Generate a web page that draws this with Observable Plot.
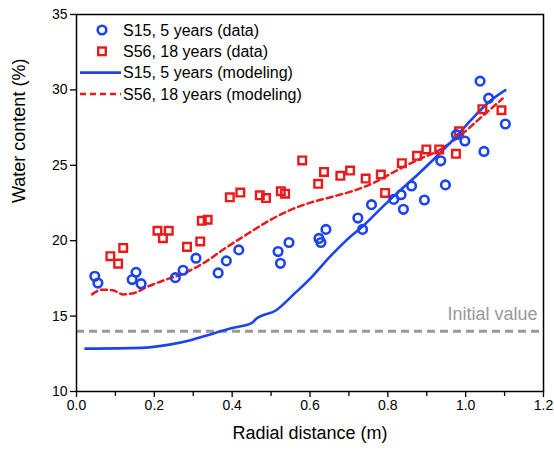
<!DOCTYPE html>
<html>
<head>
<meta charset="utf-8">
<script src="https://cdn.jsdelivr.net/npm/d3@7"></script>
<script src="https://cdn.jsdelivr.net/npm/@observablehq/plot@0.6"></script>
<style>
  html, body { margin: 0; padding: 0; background: #fff; }
  #chart { width: 554px; height: 451px; }
</style>
</head>
<body>
<div id="chart"></div>
<script>
// S15, 5 years (data)
const s15DataX = [0.047,0.055,0.143,0.153,0.166,0.254,0.274,0.307,0.364,0.385,0.417,0.518,0.524,0.546,0.623,0.628,0.641,0.723,0.735,0.758,0.815,0.834,0.840,0.861,0.894,0.936,0.948,0.976,0.998,1.037,1.047,1.059,1.102];
const s15DataY = [17.64,17.19,17.42,17.90,17.15,17.55,18.04,18.84,17.86,18.66,19.39,19.28,18.50,19.88,20.15,19.88,20.75,21.50,20.75,22.39,22.74,23.05,22.08,23.63,22.70,25.30,23.70,27.03,26.61,30.58,25.92,29.45,27.74];
// S56, 18 years (data)
const s56DataX = [0.087,0.107,0.120,0.208,0.222,0.237,0.284,0.318,0.322,0.337,0.394,0.421,0.471,0.487,0.525,0.536,0.580,0.621,0.636,0.678,0.703,0.743,0.782,0.793,0.836,0.875,0.899,0.932,0.975,0.983,1.043,1.092];
const s56DataY = [18.97,18.48,19.52,20.66,20.17,20.66,19.59,19.95,21.32,21.39,22.88,23.19,23.01,22.83,23.28,23.12,25.32,23.77,24.56,24.30,24.65,24.12,24.39,23.17,25.14,25.63,26.05,26.05,25.76,27.25,28.72,28.65];
// S15, 5 years (modeling)
const s15ModelX = [0.023,0.166,0.239,0.293,0.348,0.403,0.450,0.462,0.512,0.558,0.603,0.649,0.694,0.740,0.785,0.831,0.877,0.922,0.968,1.013,1.059,1.102];
const s15ModelY = [12.84,12.89,13.11,13.40,13.82,14.22,14.53,14.82,15.37,16.44,17.55,18.88,20.04,21.06,22.21,23.32,24.39,25.50,26.70,27.98,29.18,29.98];
// S56, 18 years (modeling)
const s56ModelX = [0.040,0.066,0.093,0.120,0.148,0.184,0.230,0.275,0.330,0.385,0.439,0.494,0.549,0.603,0.658,0.713,0.767,0.822,0.877,0.931,0.986,1.041,1.095];
const s56ModelY = [16.44,16.75,16.71,16.44,16.53,16.97,17.42,17.82,18.57,19.55,20.44,21.32,22.03,22.54,22.92,23.32,23.88,24.65,25.36,25.99,26.98,28.21,29.43];

const initialValue = 14;
const xMajorTicks = [0, 0.2, 0.4, 0.6, 0.8, 1.0, 1.2];
const xMinorTicks = [0.1, 0.3, 0.5, 0.7, 0.9, 1.1];
const yTicks = [10, 15, 20, 25, 30, 35];
const legendLabels = ["S15, 5 years (data)", "S56, 18 years (data)", "S15, 5 years (modeling)", "S56, 18 years (modeling)"];

const BLUE = "#1d44eb";
const RED = "#ea1a1a";

const s15Data = s15DataX.map((x, i) => ({x, y: s15DataY[i]}));
const s56Data = s56DataX.map((x, i) => ({x, y: s56DataY[i]}));
const s15Model = s15ModelX.map((x, i) => ({x, y: s15ModelY[i]}));
const s56Model = s56ModelX.map((x, i) => ({x, y: s56ModelY[i]}));

const FONT = "'Liberation Sans', Arial, Helvetica, sans-serif";

const chart = Plot.plot({
  width: 554,
  height: 451,
  marginLeft: 76,
  marginRight: 11,
  marginTop: 14,
  marginBottom: 60,
  style: {fontFamily: FONT, fontSize: "14px", color: "#000", background: "#fff", overflow: "visible"},
  x: {domain: [0, 1.2]},
  y: {domain: [10, 35]},
  marks: [
    Plot.axisX({ticks: xMinorTicks, tickSize: 5, tickFormat: () => "", strokeWidth: 1.3, label: null}),
    Plot.axisX({ticks: xMajorTicks, tickSize: 6, tickPadding: 3, tickFormat: d3.format(".1f"), strokeWidth: 1.3, fontSize: 14, label: null}),
    Plot.axisY({ticks: yTicks, tickSize: 6, tickPadding: 3, strokeWidth: 1.3, fontSize: 14, label: null}),
    Plot.ruleY([initialValue], {stroke: "#999", strokeWidth: 3, strokeDasharray: "8,5"}),
    Plot.text(["Initial value"], {x: () => 1.2, y: () => initialValue, dx: -6, dy: -17, textAnchor: "end", fill: "#999", fontSize: 18}),
    Plot.line(s56Model, {x: "x", y: "y", stroke: RED, strokeWidth: 2.5, strokeDasharray: "6,4", curve: "monotone-x"}),
    Plot.line(s15Model, {x: "x", y: "y", stroke: BLUE, strokeWidth: 2.6, curve: "monotone-x"}),
    Plot.dot(s56Data, {x: "x", y: "y", symbol: "square", r: 4.3, stroke: RED, strokeWidth: 2.4, fill: "none"}),
    Plot.dot(s15Data, {x: "x", y: "y", symbol: "circle", r: 4.3, stroke: BLUE, strokeWidth: 2.6, fill: "none"}),
    Plot.frame({stroke: "#000", strokeWidth: 1.5}),
    Plot.text(["Radial distance (m)"], {frameAnchor: "bottom", dy: 47, fontSize: 18}),
    Plot.text(["Water content (%)"], {frameAnchor: "left", dx: -57, rotate: -90, fontSize: 18})
  ]
});

document.getElementById("chart").appendChild(chart);

// Legend (inside plot, top-left)
const svg = d3.select(chart);
const lg = svg.append("g").attr("font-family", FONT).attr("font-size", 16).attr("text-anchor", "start");
legendLabels.forEach((label, i) => {
  const cy = 30 + i * 21.3;
  const g = lg.append("g");
  if (i === 0) {
    g.append("circle").attr("cx", 102).attr("cy", cy).attr("r", 4.3).attr("fill", "none").attr("stroke", BLUE).attr("stroke-width", 2.6);
  } else if (i === 1) {
    g.append("rect").attr("x", 98.2).attr("y", cy - 3.8).attr("width", 7.6).attr("height", 7.6).attr("fill", "none").attr("stroke", RED).attr("stroke-width", 2.4);
  } else if (i === 2) {
    g.append("line").attr("x1", 80).attr("x2", 121).attr("y1", cy).attr("y2", cy).attr("stroke", BLUE).attr("stroke-width", 2.6);
  } else {
    g.append("line").attr("x1", 80).attr("x2", 121).attr("y1", cy).attr("y2", cy).attr("stroke", RED).attr("stroke-width", 2.5).attr("stroke-dasharray", "6,4");
  }
  g.append("text").attr("x", 123).attr("y", cy).attr("dy", "0.35em").attr("text-anchor", "start").attr("fill", "#000").text(label);
});
</script>
</body>
</html>
